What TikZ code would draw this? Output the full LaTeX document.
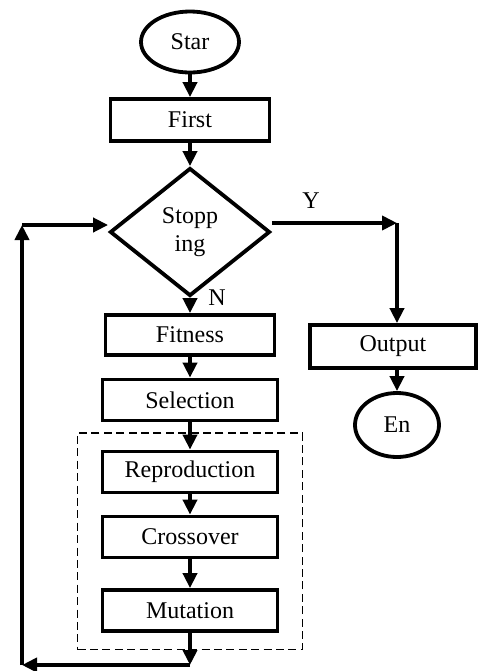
\documentclass[tikz,border=0pt]{standalone}
\usepackage{fontspec}
\setmainfont{Liberation Serif}
\usetikzlibrary{arrows.meta,positioning,shapes.geometric,fit}

\begin{document}
\begin{tikzpicture}[
  x=0.5pt, y=-0.5pt,
  every node/.style={font=\fontsize{12}{14}\selectfont},
  term/.style={ellipse, draw=black, line width=1.9pt, inner sep=0pt},
  proc/.style={rectangle, draw=black, line width=1.9pt, minimum width=87.5pt, minimum height=20.5pt, inner sep=0pt},
  cond/.style={diamond, draw=black, line width=1.9pt, minimum width=80pt, minimum height=64pt, inner sep=0pt, align=center},
  grp/.style={draw=black, line width=0.7pt, dash pattern=on 4pt off 2.2pt, inner xsep=11.5pt, inner ysep=8.4pt},
  arr/.style={-{Triangle[length=7.5pt,width=7pt]}, line width=1.9pt}
]
\useasboundingbox (0,0) rectangle (480,671);

\node[term, minimum width=49pt, minimum height=30.5pt] (star) at (190,42) {Star};
\node[proc, minimum width=79.5pt, minimum height=21pt] (first) at (190,120) {First};
\node[cond] (stop) at (190,232) {Stopp\\ing};
\node[proc, minimum width=84.5pt, minimum height=20pt] (fit) at (190,335) {Fitness};
\node[proc] (sel) at (190,400) {Selection};
\node[proc] (rep) at (190,472) {Reproduction};
\node[proc] (cro) at (190,537) {Crossover};
\node[proc] (mut) at (190,610.5) {Mutation};
\node[grp, fit=(rep)(cro)(mut)] (ga) {};

\node[proc, minimum width=83pt, minimum height=21.5pt] (out) at (393,346.5) {Output};
\node[term, minimum width=42pt, minimum height=32pt] (en) at (397,425) {En};

\node (yes) at (311,201) {Y};
\node (no) at (217,298) {N};

\coordinate (yc) at (397,223);
\coordinate (lb) at (190,665);
\coordinate (ll) at (22,665);
\coordinate (lt) at (22,225);

\draw[arr] (star) -- (first);
\draw[arr] (first) -- (stop);
\draw[arr] (stop) -- (fit);
\draw[arr] (fit) -- (sel);
\draw[arr] (sel) -- (rep);
\draw[arr] (rep) -- (cro);
\draw[arr] (cro) -- (mut);

% loop back to the test
\draw[arr] (mut) -- (lb);
\draw[arr] (lb) -- (ll);
\draw[arr] (ll) -- (lt);
\draw[arr] (lt) -- (stop.west |- lt);

% exit branch
\draw[arr] (stop.east |- yc) -- (yc);
\draw[arr] (yc) -- (yc |- out.north);
\draw[arr] (out.south -| en) -- (en);
\end{tikzpicture}
\end{document}
